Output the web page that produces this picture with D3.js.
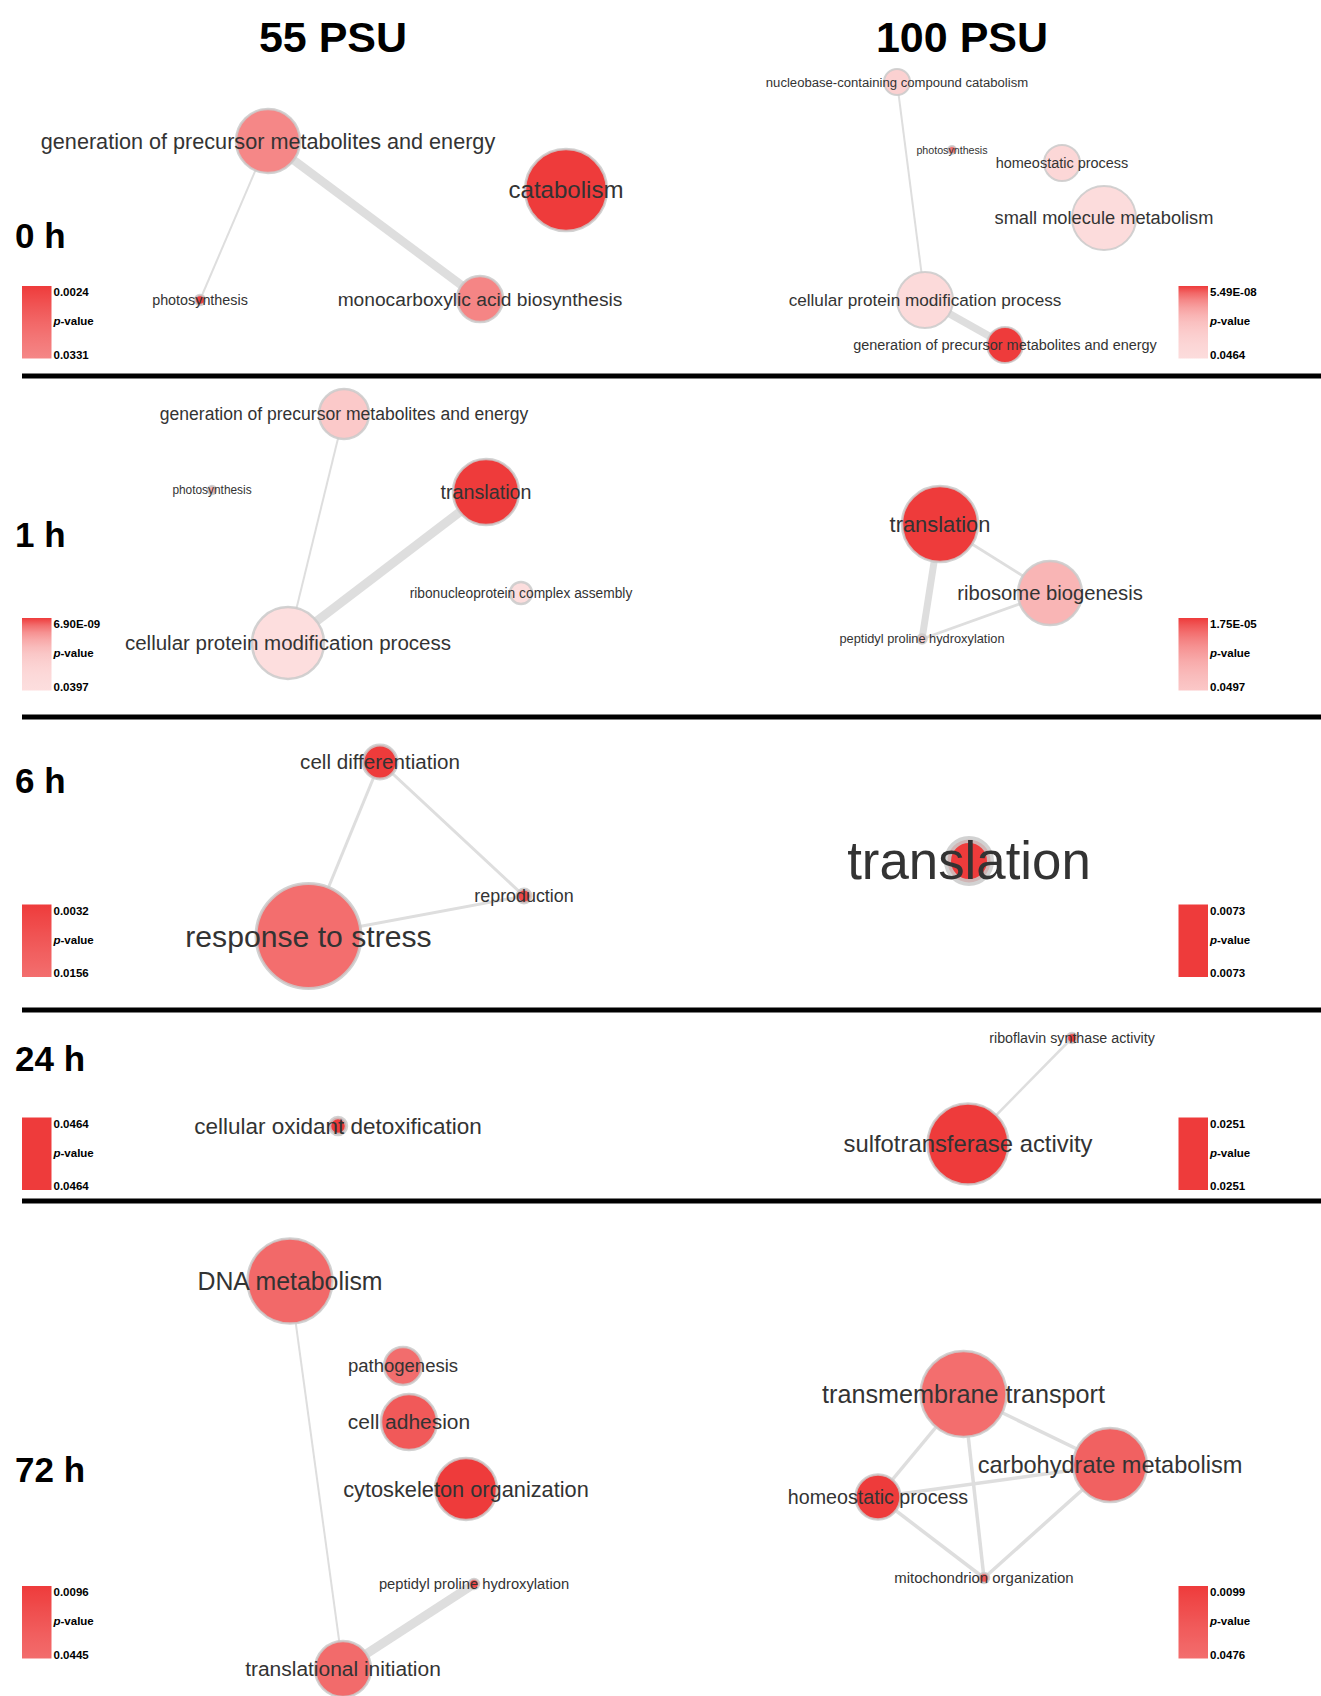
<!DOCTYPE html>
<html>
<head>
<meta charset="utf-8">
<script src="https://cdn.jsdelivr.net/npm/d3@7"></script>
<style>
  body { margin: 0; background: #fff; }
  svg { display: block; }
  text { font-family: "Liberation Sans", Arial, Helvetica, sans-serif; }
</style>
</head>
<body>
<svg id="chart" width="1321" height="1696"></svg>
<script>
// ---- data -------------------------------------------------------------
const salinities = ["55 PSU", "100 PSU"];
const timepoints = ["0 h", "1 h", "6 h", "24 h", "72 h"];

// Enriched GO terms: term, p-value, log term size, semantic-space position (x, y)
const nodes0h55 = [
  { term: "generation of precursor metabolites and energy", p: 0.0331, size: 32, x: 268, y: 141 },
  { term: "catabolism", p: 0.0024, size: 41, x: 566, y: 190 },
  { term: "monocarboxylic acid biosynthesis", p: 0.0302, size: 23, x: 480, y: 299 },
  { term: "photosynthesis", p: 0.0027, size: 5, x: 200, y: 300 }
];
const edges0h55 = [
  { a: "generation of precursor metabolites and energy", b: "monocarboxylic acid biosynthesis", sim: 0.85 },
  { a: "generation of precursor metabolites and energy", b: "photosynthesis", sim: 0.2 }
];

const nodes0h100 = [
  { term: "nucleobase-containing compound catabolism", p: 0.0009, size: 13, x: 237, y: 82 },
  { term: "photosynthesis", p: 3.2e-7, size: 4, x: 292, y: 150 },
  { term: "homeostatic process", p: 0.0063, size: 18, x: 402, y: 163 },
  { term: "small molecule metabolism", p: 0.0464, size: 32, x: 444, y: 218 },
  { term: "cellular protein modification process", p: 0.0215, size: 28, x: 265, y: 300 },
  { term: "generation of precursor metabolites and energy", p: 5.49e-8, size: 18, x: 345, y: 345 }
];
const edges0h100 = [
  { a: "nucleobase-containing compound catabolism", b: "cellular protein modification process", sim: 0.2 },
  { a: "cellular protein modification process", b: "generation of precursor metabolites and energy", sim: 0.75 }
];

const nodes1h55 = [
  { term: "generation of precursor metabolites and energy", p: 2.4e-5, size: 25, x: 344, y: 38 },
  { term: "photosynthesis", p: 8.5e-7, size: 4, x: 212, y: 114 },
  { term: "translation", p: 6.90e-9, size: 33, x: 486, y: 116 },
  { term: "ribonucleoprotein complex assembly", p: 0.0112, size: 11, x: 521, y: 217 },
  { term: "cellular protein modification process", p: 0.0397, size: 36, x: 288, y: 267 }
];
const edges1h55 = [
  { a: "generation of precursor metabolites and energy", b: "cellular protein modification process", sim: 0.2 },
  { a: "translation", b: "cellular protein modification process", sim: 0.9 }
];

const nodes1h100 = [
  { term: "translation", p: 1.75e-5, size: 38, x: 280, y: 148 },
  { term: "ribosome biogenesis", p: 0.0053, size: 32, x: 390, y: 217 },
  { term: "peptidyl proline hydroxylation", p: 0.0497, size: 4.5, x: 262, y: 263 }
];
const edges1h100 = [
  { a: "translation", b: "peptidyl proline hydroxylation", sim: 0.7 },
  { a: "translation", b: "ribosome biogenesis", sim: 0.28 },
  { a: "ribosome biogenesis", b: "peptidyl proline hydroxylation", sim: 0.28 }
];

const nodes6h55 = [
  { term: "cell differentiation", p: 0.0032, size: 17, x: 380, y: 45 },
  { term: "reproduction", p: 0.0045, size: 7, x: 524, y: 179 },
  { term: "response to stress", p: 0.0156, size: 52.5, x: 308.5, y: 219 }
];
const edges6h55 = [
  { a: "cell differentiation", b: "response to stress", sim: 0.3 },
  { a: "cell differentiation", b: "reproduction", sim: 0.3 },
  { a: "response to stress", b: "reproduction", sim: 0.3 }
];

const nodes6h100 = [
  { term: "translation", p: 0.0073, size: 21.5, x: 309, y: 144 }
];
const edges6h100 = [];

const nodes24h55 = [
  { term: "cellular oxidant detoxification", p: 0.0464, size: 8.5, x: 338, y: 116 }
];
const edges24h55 = [];

const nodes24h100 = [
  { term: "riboflavin synthase activity", p: 0.0251, size: 5, x: 412, y: 28 },
  { term: "sulfotransferase activity", p: 0.0251, size: 40.5, x: 308, y: 134 }
];
const edges24h100 = [
  { a: "riboflavin synthase activity", b: "sulfotransferase activity", sim: 0.25 }
];

const nodes72h55 = [
  { term: "DNA metabolism", p: 0.0390, size: 42.5, x: 290, y: 80 },
  { term: "pathogenesis", p: 0.0445, size: 19, x: 403, y: 165 },
  { term: "cell adhesion", p: 0.0230, size: 28, x: 409, y: 221 },
  { term: "cytoskeleton organization", p: 0.0096, size: 31, x: 466, y: 288 },
  { term: "peptidyl proline hydroxylation", p: 0.0128, size: 5, x: 474, y: 383 },
  { term: "translational initiation", p: 0.0412, size: 28, x: 343, y: 468 }
];
const edges72h55 = [
  { a: "DNA metabolism", b: "translational initiation", sim: 0.2 },
  { a: "translational initiation", b: "peptidyl proline hydroxylation", sim: 0.9 }
];

const nodes72h100 = [
  { term: "transmembrane transport", p: 0.0476, size: 43, x: 303.5, y: 193 },
  { term: "carbohydrate metabolism", p: 0.0305, size: 37, x: 450, y: 264 },
  { term: "homeostatic process", p: 0.0099, size: 22.5, x: 218, y: 296 },
  { term: "mitochondrion organization", p: 0.0214, size: 5, x: 324, y: 377 }
];
const edges72h100 = [
  { a: "transmembrane transport", b: "carbohydrate metabolism", sim: 0.35 },
  { a: "transmembrane transport", b: "homeostatic process", sim: 0.35 },
  { a: "transmembrane transport", b: "mitochondrion organization", sim: 0.35 },
  { a: "homeostatic process", b: "carbohydrate metabolism", sim: 0.35 },
  { a: "homeostatic process", b: "mitochondrion organization", sim: 0.35 },
  { a: "carbohydrate metabolism", b: "mitochondrion organization", sim: 0.35 }
];

// ---- layout & style ---------------------------------------------------
const W = 1321, H = 1696;
const colLeft = [0, 660];
const titleX = [333, 962];
const rowTop = [0, 376, 717, 1010, 1201];
const separatorsY = [376, 717, 1010, 1201];
const rowLabelBaseline = [248, 547, 793, 1071, 1482];
const legendTop = [286, 618, 904.5, 1117.5, 1586];
const legendX = [22, 1178.5];
const legendW = 29.5, legendH = 72.5;

const RED = "#ee3b3b", PALE = "#fde3e3";
const EDGE = "#dedede", NODE_STROKE = "#cacaca", LABEL = "#333";

const panels = [
  { row: 0, col: 0, nodes: nodes0h55,  edges: edges0h55,  labelBase: 13,   stroke: 2.5 },
  { row: 0, col: 1, nodes: nodes0h100, edges: edges0h100, labelBase: 9.6,  stroke: 2 },
  { row: 1, col: 0, nodes: nodes1h55,  edges: edges1h55,  labelBase: 10.8, stroke: 2.5 },
  { row: 1, col: 1, nodes: nodes1h100, edges: edges1h100, labelBase: 11.6, stroke: 2.5 },
  { row: 2, col: 0, nodes: nodes6h55,  edges: edges6h55,  labelBase: 16,   stroke: 3 },
  { row: 2, col: 1, nodes: nodes6h100, edges: edges6h100, labelBase: 47,   stroke: 7 },
  { row: 3, col: 0, nodes: nodes24h55, edges: edges24h55, labelBase: 20.2, stroke: 3.5 },
  { row: 3, col: 1, nodes: nodes24h100, edges: edges24h100, labelBase: 12.9, stroke: 2.5 },
  { row: 4, col: 0, nodes: nodes72h55, edges: edges72h55, labelBase: 13.4, stroke: 2.5 },
  { row: 4, col: 1, nodes: nodes72h100, edges: edges72h100, labelBase: 13.6, stroke: 2.5 }
];

// ---- helpers ----------------------------------------------------------
const fade = d3.interpolateRgb(RED, PALE);
// colour saturates towards pale with decades of p above the panel's best term
function pColor(p, pMin) {
  const decades = Math.log10(p / pMin);
  return fade(1 - Math.exp(-decades / 1.9));
}
function fmtP(p) {
  if (p >= 0.001) return p.toFixed(4);
  const [m, e] = p.toExponential(2).split("e");
  const n = +e;
  return m + "E" + (n < 0 ? "-" : "+") + String(Math.abs(n)).padStart(2, "0");
}
const rScale = d3.scaleLinear().domain([0, 60]).range([0, 60]);
const widthScale = d3.scaleLinear().domain([0, 1]).range([0, 10]);

// ---- drawing ----------------------------------------------------------
const svg = d3.select("#chart");
const defs = svg.append("defs");

// column titles
svg.selectAll("text.title").data(salinities).join("text")
  .attr("class", "title")
  .attr("x", (d, i) => titleX[i])
  .attr("y", 52)
  .attr("text-anchor", "middle")
  .attr("font-size", 43)
  .attr("font-weight", "bold")
  .attr("fill", "#000")
  .text(d => d);

// time-point labels
svg.selectAll("text.time").data(timepoints).join("text")
  .attr("class", "time")
  .attr("x", 15)
  .attr("y", (d, i) => rowLabelBaseline[i])
  .attr("font-size", 35)
  .attr("font-weight", "bold")
  .attr("fill", "#000")
  .text(d => d);

// row separators
svg.selectAll("line.sep").data(separatorsY).join("line")
  .attr("class", "sep")
  .attr("x1", 22).attr("x2", W)
  .attr("y1", d => d).attr("y2", d => d)
  .attr("stroke", "#000")
  .attr("stroke-width", 5);

panels.forEach((panel, pi) => {
  const x = d3.scaleLinear().domain([0, 660]).range([colLeft[panel.col], colLeft[panel.col] + 660]);
  const y = d3.scaleLinear().domain([0, 100]).range([rowTop[panel.row], rowTop[panel.row] + 100]);
  const [pMin, pMax] = d3.extent(panel.nodes, d => d.p);
  const byTerm = new Map(panel.nodes.map(d => [d.term, d]));
  const g = svg.append("g").attr("class", "panel");

  // similarity edges
  g.selectAll("line.edge").data(panel.edges).join("line")
    .attr("class", "edge")
    .attr("x1", d => x(byTerm.get(d.a).x)).attr("y1", d => y(byTerm.get(d.a).y))
    .attr("x2", d => x(byTerm.get(d.b).x)).attr("y2", d => y(byTerm.get(d.b).y))
    .attr("stroke", EDGE)
    .attr("stroke-width", d => widthScale(d.sim));

  // term nodes
  g.selectAll("circle.node").data(panel.nodes).join("circle")
    .attr("class", "node")
    .attr("cx", d => x(d.x)).attr("cy", d => y(d.y))
    .attr("r", d => rScale(d.size))
    .attr("fill", d => pColor(d.p, pMin))
    .attr("stroke", NODE_STROKE)
    .attr("stroke-opacity", 0.85)
    .attr("stroke-width", panel.stroke);

  // term labels
  g.selectAll("text.label").data(panel.nodes).join("text")
    .attr("class", "label")
    .attr("x", d => x(d.x)).attr("y", d => y(d.y))
    .attr("dy", "0.35em")
    .attr("text-anchor", "middle")
    .attr("font-size", d => panel.labelBase + 0.27 * rScale(d.size))
    .attr("fill", LABEL)
    .text(d => d.term);

  // p-value colour legend
  const gradId = "grad" + pi;
  const grad = defs.append("linearGradient").attr("id", gradId)
    .attr("x1", 0).attr("y1", 0).attr("x2", 0).attr("y2", 1);
  const logP = d3.scaleLinear().domain([0, 1]).range([Math.log10(pMin), Math.log10(pMax)]);
  grad.selectAll("stop").data(d3.range(0, 1.0001, 0.1)).join("stop")
    .attr("offset", d => d)
    .attr("stop-color", d => pColor(Math.pow(10, logP(d)), pMin));

  const lx = legendX[panel.col], ly = legendTop[panel.row];
  g.append("rect")
    .attr("x", lx).attr("y", ly)
    .attr("width", legendW).attr("height", legendH)
    .attr("fill", `url(#${gradId})`);

  const lg = g.append("g")
    .attr("font-size", 11.5)
    .attr("font-weight", "bold")
    .attr("fill", "#000");
  lg.append("text").attr("x", lx + legendW + 2).attr("y", ly + 10).text(fmtP(pMin));
  lg.append("text").attr("x", lx + legendW + 2).attr("y", ly + legendH).text(fmtP(pMax));
  const mid = lg.append("text").attr("x", lx + legendW + 2).attr("y", ly + legendH / 2 + 3);
  mid.append("tspan").attr("font-style", "italic").text("p");
  mid.append("tspan").text("-value");
});
</script>
</body>
</html>
